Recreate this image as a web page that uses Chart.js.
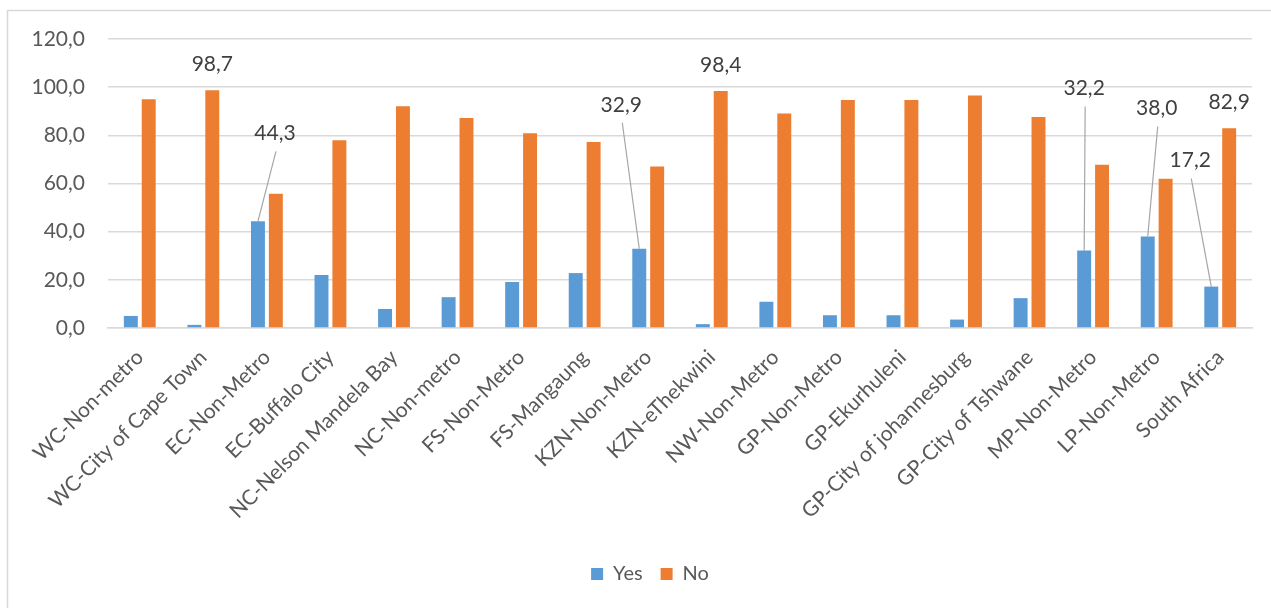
<!DOCTYPE html>
<html>
<head>
<meta charset="utf-8">
<script src="https://cdn.jsdelivr.net/npm/chart.js@4"></script>
<style>
  html, body { margin: 0; padding: 0; background: #fff; }
  #wrap { position: relative; width: 1271px; height: 608px; overflow: hidden; }
</style>
</head>
<body>
<div id="wrap"><canvas id="chartOne" width="1271" height="608"></canvas></div>
<script>
// categories and values
let categories = [
    'WC-Non-metro', 'WC-City of Cape Town', 'EC-Non-Metro', 'EC-Buffalo City',
    'NC-Nelson Mandela Bay', 'NC-Non-metro', 'FS-Non-Metro', 'FS-Mangaung',
    'KZN-Non-Metro', 'KZN-eThekwini', 'NW-Non-Metro', 'GP-Non-Metro',
    'GP-Ekurhuleni', 'GP-City of johannesburg', 'GP-City of Tshwane',
    'MP-Non-Metro', 'LP-Non-Metro', 'South Africa'
];
let yesValues = [5.0, 1.3, 44.3, 22.0, 7.9, 12.8, 19.1, 22.8, 32.9, 1.6, 10.9, 5.3, 5.3, 3.5, 12.4, 32.2, 38.0, 17.2];
let noValues  = [95.0, 98.7, 55.7, 78.0, 92.1, 87.2, 80.9, 77.2, 67.1, 98.4, 89.1, 94.7, 94.7, 96.5, 87.6, 67.8, 62.0, 82.9];
let seriesNames = ['Yes', 'No'];
let yTicks = [0, 20, 40, 60, 80, 100, 120];

// which bars carry a value label: [dataset, index]
let labelledBars = [[1, 1], [0, 2], [0, 8], [1, 9], [0, 15], [0, 16], [1, 17], [0, 17]];

// label placement relative to bar top (pixels), plus whether a leader line is drawn
let labelPlacement = [
    { dx: 0,   dy: -26,  leader: false },
    { dx: 17,  dy: -88,  leader: true },
    { dx: -18, dy: -144, leader: true },
    { dx: 0,   dy: -26,  leader: false },
    { dx: 0,   dy: -162, leader: true },
    { dx: 9,   dy: -128, leader: true },
    { dx: 0,   dy: -26,  leader: false },
    { dx: -21, dy: -126, leader: true }
];

const FONT = 'Lato, "Liberation Sans", sans-serif';
const fmt = v => v.toFixed(1).replace('.', ',');

// outer frame like the office chart border
const framePlugin = {
    id: 'frame',
    beforeDraw(chart) {
        const c = chart.ctx;
        c.save();
        c.fillStyle = '#fff';
        c.fillRect(0, 0, chart.width, chart.height);
        c.strokeStyle = '#d9d9d9';
        c.lineWidth = 1.5;
        c.strokeRect(7.5, 10.5, chart.width + 20, chart.height + 20);
        c.restore();
    },
    afterLayout(chart) {
        // the legend sits a little right of the canvas centre in the original
        chart.legend.left += 24;
        chart.legend.right += 24;
    }
};

const labelPlugin = {
    id: 'valueLabels',
    afterDatasetsDraw(chart) {
        const c = chart.ctx;
        c.save();
        c.font = '21px ' + FONT;
        c.fillStyle = '#404040';
        c.textAlign = 'center';
        c.textBaseline = 'middle';
        labelledBars.forEach((lb, i) => {
            const bar = chart.getDatasetMeta(lb[0]).data[lb[1]];
            const p = labelPlacement[i];
            const lx = bar.x + p.dx;
            const ly = bar.y + p.dy;
            if (p.leader) {
                c.strokeStyle = '#a6a6a6';
                c.lineWidth = 1.2;
                c.beginPath();
                c.moveTo(lx + 1, ly + 18);
                c.lineTo(bar.x, bar.y);
                c.stroke();
            }
            const v = chart.data.datasets[lb[0]].data[lb[1]];
            c.fillText(fmt(v), lx, ly);
        });
        c.restore();
    }
};

let chartOne = document.getElementById('chartOne').getContext('2d');

let regionChart = new Chart(chartOne, {
    type: 'bar',
    data: {
        labels: categories,
        datasets: [{
            label: seriesNames[0],
            data: yesValues,
            backgroundColor: '#5B9BD5',
            categoryPercentage: 0.563,
            barPercentage: 0.78
        }, {
            label: seriesNames[1],
            data: noValues,
            backgroundColor: '#ED7D31',
            categoryPercentage: 0.563,
            barPercentage: 0.78
        }]
    },
    options: {
        responsive: false,
        animation: false,
        layout: { padding: { top: 39, right: 19, bottom: 14, left: 0 } },
        plugins: {
            legend: {
                position: 'bottom',
                labels: {
                    font: { family: FONT, size: 20 },
                    color: '#595959',
                    boxWidth: 12,
                    boxHeight: 12,
                    padding: 18
                }
            },
            tooltip: { enabled: false }
        },
        scales: {
            x: {
                grid: { display: false },
                border: { color: '#d9d9d9', width: 1.5 },
                ticks: {
                    font: { family: FONT, size: 21 },
                    color: '#595959',
                    maxRotation: 45,
                    minRotation: 45,
                    autoSkip: false,
                    padding: 9
                },
                afterFit(scale) { scale.height = 218; }
            },
            y: {
                min: 0,
                max: 120,
                afterBuildTicks(scale) { scale.ticks = yTicks.map(v => ({ value: v })); },
                grid: { color: '#d9d9d9', lineWidth: 1.5, drawTicks: false },
                border: { display: false },
                ticks: {
                    font: { family: FONT, size: 21 },
                    color: '#595959',
                    padding: 23,
                    callback: v => fmt(v)
                },
                afterFit(scale) { scale.width = 108; }
            }
        }
    },
    plugins: [framePlugin, labelPlugin]
});
</script>
</body>
</html>
